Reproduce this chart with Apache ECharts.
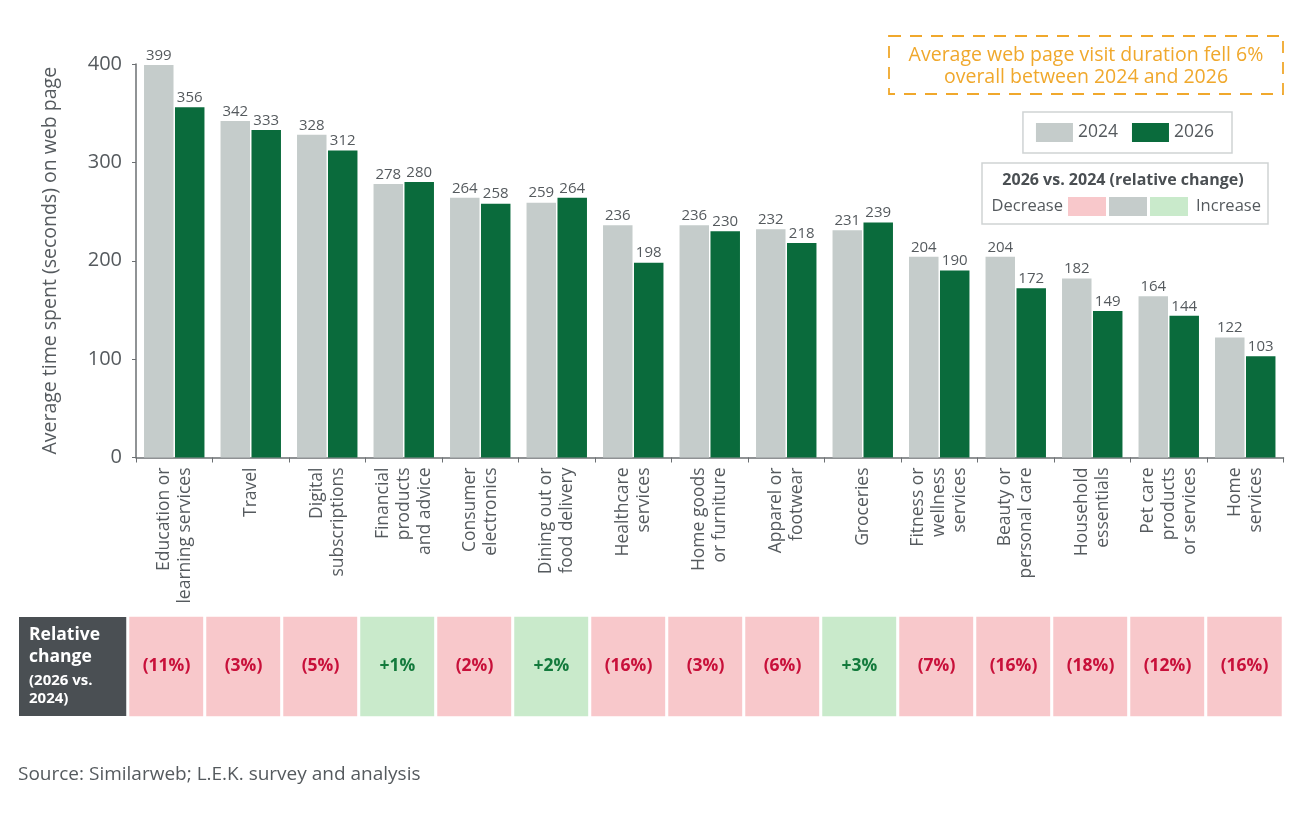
<!DOCTYPE html>
<html>
<head>
<meta charset="utf-8">
<script src="https://cdn.jsdelivr.net/npm/echarts@6/dist/echarts.min.js"></script>
<style>
html,body{margin:0;padding:0;background:#fff;}
#chart{width:1300px;height:814px;}
</style>
</head>
<body>
<div id="chart"></div>
<script>
const categories = [
  'Education or\nlearning services', 'Travel', 'Digital\nsubscriptions',
  'Financial\nproducts\nand advice', 'Consumer\nelectronics', 'Dining out or\nfood delivery',
  'Healthcare\nservices', 'Home goods\nor furniture', 'Apparel or\nfootwear', 'Groceries',
  'Fitness or\nwellness\nservices', 'Beauty or\npersonal care', 'Household\nessentials',
  'Pet care\nproducts\nor services', 'Home\nservices'
];
const values2024 = [399, 342, 328, 278, 264, 259, 236, 236, 232, 231, 204, 204, 182, 164, 122];
const values2026 = [356, 333, 312, 280, 258, 264, 198, 230, 218, 239, 190, 172, 149, 144, 103];
const relChange = [-11, -3, -5, 1, -2, 2, -16, -3, -6, 3, -7, -16, -18, -12, -16];
const yTicks = [0, 100, 200, 300, 400];

const FONT = 'Open Sans';
const GREY = '#c5cccb';
const GREEN = '#0a6b3c';
const PINK = '#f8c8cb';
const LGREEN = '#c9eacb';
const RED = '#c8103a';
const DGREEN = '#137a3c';
const TXT = '#555a5e';

const chart = echarts.init(document.getElementById('chart'));

const tableData = relChange.map((v, i) => ({
  value: [i, 0, v],
  itemStyle: { color: v < 0 ? PINK : LGREEN },
  label: { color: v < 0 ? RED : DGREEN }
}));

const option = {
  backgroundColor: '#fff',
  textStyle: { fontFamily: FONT },
  animation: false,
  legend: {
    data: ['2024', '2026'],
    right: 68, top: 112,
    orient: 'horizontal',
    itemWidth: 37, itemHeight: 19, itemGap: 14,
    padding: [11, 18, 11, 13],
    borderColor: '#cfd3d4', borderWidth: 1.5,
    icon: 'rect',
    textStyle: { fontSize: 17.5, color: TXT, fontFamily: FONT }
  },
  grid: [
    { left: 136, top: 64, width: 1147.5, height: 393.5 },
    { left: 128, top: 615.5, width: 1155, height: 102 }
  ],
  xAxis: [
    {
      type: 'category', gridIndex: 0, data: categories,
      axisLine: { lineStyle: { color: '#6b6f72', width: 1.5 } },
      axisTick: { show: true, length: 5, interval: 0, lineStyle: { color: '#6b6f72' } },
      axisLabel: { interval: 0, rotate: 90, fontSize: 17.5, color: TXT, margin: 10, lineHeight: 21, fontFamily: FONT }
    },
    { type: 'category', gridIndex: 1, data: categories, show: false }
  ],
  yAxis: [
    {
      type: 'value', gridIndex: 0, min: yTicks[0], max: yTicks[yTicks.length - 1], interval: 100,
      name: 'Average time spent (seconds) on web page',
      nameLocation: 'middle', nameGap: 76, nameRotate: 90,
      nameTextStyle: { fontSize: 19.5, color: TXT, fontFamily: FONT },
      axisLine: { show: true, lineStyle: { color: '#6b6f72', width: 1.5 } },
      axisTick: { show: true, length: 4, lineStyle: { color: '#6b6f72' } },
      axisLabel: { fontSize: 20, color: TXT, margin: 14, fontFamily: FONT },
      splitLine: { show: false }
    },
    { type: 'category', gridIndex: 1, data: ['Relative change'], show: false }
  ],
  series: [
    {
      name: '2024', type: 'bar', data: values2024,
      xAxisIndex: 0, yAxisIndex: 0,
      barCategoryGap: '21%', barGap: '5%',
      itemStyle: { color: GREY },
      label: { show: true, position: 'top', distance: 2, fontSize: 15, color: TXT, fontFamily: FONT }
    },
    {
      name: '2026', type: 'bar', data: values2026,
      xAxisIndex: 0, yAxisIndex: 0,
      barCategoryGap: '21%', barGap: '5%',
      itemStyle: { color: GREEN },
      label: { show: true, position: 'top', distance: 2, fontSize: 15, color: TXT, fontFamily: FONT }
    },
    {
      name: 'table', type: 'heatmap', xAxisIndex: 1, yAxisIndex: 1,
      data: tableData,
      itemStyle: { borderColor: '#fff', borderWidth: 3 },
      label: {
        show: true, fontSize: 17.5, fontWeight: 'bold', fontFamily: FONT,
        formatter: p => { const v = p.value[2]; return v < 0 ? '(' + Math.abs(v) + '%)' : '+' + v + '%'; }
      },
      emphasis: { disabled: true }
    }
  ],
  graphic: [
    // annotation
    { type: 'rect', shape: { x: 889, y: 36, width: 394, height: 58 },
      style: { fill: 'none', stroke: '#f0a82c', lineWidth: 1.8, lineDash: [12, 9] } },
    { type: 'text', x: 1086, y: 55, style: { text: 'Average web page visit duration fell 6%', fill: '#f0a82c', fontSize: 19.5, fontFamily: FONT, align: 'center', verticalAlign: 'middle' } },
    { type: 'text', x: 1086, y: 77, style: { text: 'overall between 2024 and 2026', fill: '#f0a82c', fontSize: 19.5, fontFamily: FONT, align: 'center', verticalAlign: 'middle' } },
    // relative change key
    { type: 'rect', shape: { x: 982, y: 163, width: 286, height: 61 },
      style: { fill: '#fff', stroke: '#cfd3d4', lineWidth: 1.5 } },
    { type: 'text', x: 1123, y: 180, style: { text: '2026 vs. 2024 (relative change)', fill: '#4a4f53', fontSize: 16, fontWeight: 'bold', fontFamily: FONT, align: 'center', verticalAlign: 'middle' } },
    { type: 'text', x: 1063, y: 206, style: { text: 'Decrease', fill: TXT, fontSize: 16.5, fontFamily: FONT, align: 'right', verticalAlign: 'middle' } },
    { type: 'rect', shape: { x: 1068, y: 197, width: 38, height: 19 }, style: { fill: PINK } },
    { type: 'rect', shape: { x: 1109, y: 197, width: 38, height: 19 }, style: { fill: GREY } },
    { type: 'rect', shape: { x: 1150, y: 197, width: 38, height: 19 }, style: { fill: LGREEN } },
    { type: 'text', x: 1196, y: 206, style: { text: 'Increase', fill: TXT, fontSize: 16.5, fontFamily: FONT, align: 'left', verticalAlign: 'middle' } },
    // table header
    { type: 'rect', shape: { x: 19, y: 617, width: 108, height: 99 }, style: { fill: '#4a4f53' } },
    { type: 'text', x: 29, y: 635, style: { text: 'Relative', fill: '#fff', fontSize: 17.5, fontWeight: 'bold', fontFamily: FONT, verticalAlign: 'middle' } },
    { type: 'text', x: 29, y: 657, style: { text: 'change', fill: '#fff', fontSize: 17.5, fontWeight: 'bold', fontFamily: FONT, verticalAlign: 'middle' } },
    { type: 'text', x: 29, y: 681, style: { text: '(2026 vs.', fill: '#fff', fontSize: 15, fontWeight: 'bold', fontFamily: FONT, verticalAlign: 'middle' } },
    { type: 'text', x: 29, y: 699, style: { text: '2024)', fill: '#fff', fontSize: 15, fontWeight: 'bold', fontFamily: FONT, verticalAlign: 'middle' } },
    // source
    { type: 'text', x: 18, y: 775, style: { text: 'Source: Similarweb; L.E.K. survey and analysis', fill: TXT, fontSize: 19, fontFamily: FONT, verticalAlign: 'middle' } }
  ]
};
chart.setOption(option);
</script>
</body>
</html>
